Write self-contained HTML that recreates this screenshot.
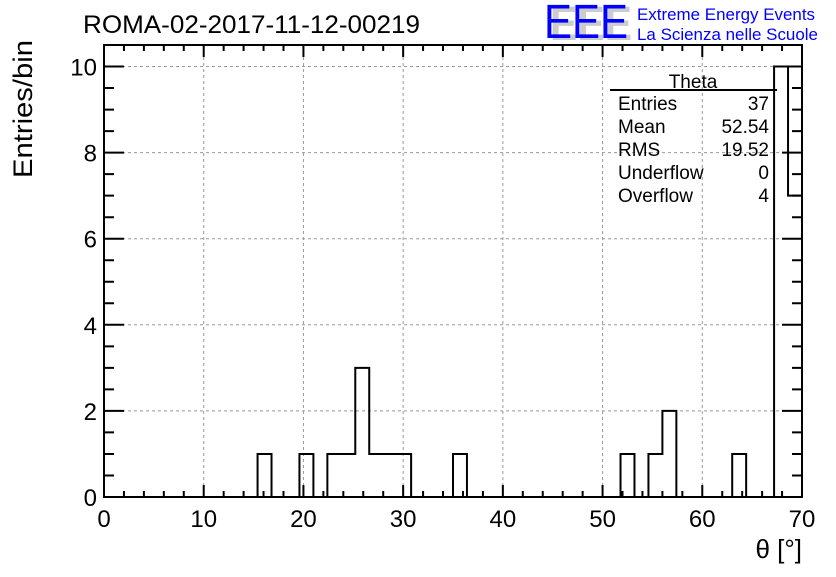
<!DOCTYPE html>
<html><head><meta charset="utf-8"><style>
body{margin:0;background:#fff;}
svg text{font-family:"Liberation Sans",sans-serif;}
</style></head><body>
<svg id="c" width="836" height="572" xmlns="http://www.w3.org/2000/svg">
<rect width="836" height="572" fill="#fff"/>
<g id="grid"></g>
<g id="ticks"></g>
<path id="hist" fill="none" stroke="#000" stroke-width="2"/>
<rect x="104" y="45" width="698" height="452" fill="none" stroke="#000" stroke-width="2"/>
<g id="labels"></g>
<text x="83" y="33" font-size="25" textLength="337" lengthAdjust="spacingAndGlyphs">ROMA-02-2017-11-12-00219</text>
<g>
<text x="550" y="40" font-size="48" fill="#ccc" font-weight="bold" textLength="82" lengthAdjust="spacingAndGlyphs">EEE</text>
<text x="544" y="38" font-size="48" fill="#0000ff" textLength="84" lengthAdjust="spacingAndGlyphs">EEE</text>
<text x="637" y="20" font-size="17" fill="#0000ff" textLength="178" lengthAdjust="spacingAndGlyphs">Extreme Energy Events</text>
<text x="637" y="40" font-size="17" fill="#0000ff" textLength="181" lengthAdjust="spacingAndGlyphs">La Scienza nelle Scuole</text>
</g>
<g font-size="19">
<text x="693" y="88" text-anchor="middle">Theta</text>
<line x1="610" y1="90" x2="777" y2="90" stroke="#000" stroke-width="2"/>
<text x="618" y="110">Entries</text><text x="769" y="110" text-anchor="end">37</text>
<text x="618" y="133">Mean</text><text x="769" y="133" text-anchor="end">52.54</text>
<text x="618" y="156">RMS</text><text x="769" y="156" text-anchor="end">19.52</text>
<text x="618" y="179">Underflow</text><text x="769" y="179" text-anchor="end">0</text>
<text x="618" y="202">Overflow</text><text x="769" y="202" text-anchor="end">4</text>
</g>
<text x="802" y="558" font-size="26" text-anchor="end">θ [°]</text>
<text transform="translate(32,178) rotate(-90)" font-size="27" textLength="138" lengthAdjust="spacingAndGlyphs">Entries/bin</text>
</svg>
<script>
const binCounts=[0,0,0,0,0,0,0,0,0,0,0,1,0,0,1,0,1,1,3,1,1,1,0,0,0,1,0,0,0,0,0,0,0,0,0,0,0,1,0,1,2,0,0,0,0,1,0,0,10,7];
const xTicks=[0,10,20,30,40,50,60,70];
const yTicks=[0,2,4,6,8,10];
const xmin=0,xmax=70,ymin=0,ymax=10.5;
const L=104,R=802,T=45,B=497;
const X=v=>L+(v-xmin)/(xmax-xmin)*(R-L);
const Y=v=>B-(v-ymin)/(ymax-ymin)*(B-T);
const NS="http://www.w3.org/2000/svg";
function mk(tag,attrs,parent){const e=document.createElementNS(NS,tag);for(const k in attrs)e.setAttribute(k,attrs[k]);parent.appendChild(e);return e;}
const grid=document.getElementById('grid'),ticks=document.getElementById('ticks'),labels=document.getElementById('labels');
xTicks.forEach(t=>{
 if(t>xmin&&t<xmax){const g=mk('line',{x1:X(t),x2:X(t),y1:T,y2:B,stroke:'#999','stroke-dasharray':'3,3','stroke-width':1},grid);
 
 }
 const l=mk('text',{x:X(t),y:527,'font-size':24,'text-anchor':'middle'},labels);l.textContent=t;
 
 
});
yTicks.forEach(t=>{
 if(t>ymin){const g=mk('line',{x1:L,x2:R,y1:Y(t),y2:Y(t),stroke:'#999','stroke-dasharray':'3,3','stroke-width':1},grid);
 
 }
 const l=mk('text',{x:97,y:Y(t)+9,'font-size':24,'text-anchor':'end'},labels);l.textContent=t;
 
 
});
let d='';
for(let v=xmin;v<=xmax+1e-9;v+=2){const len=(Math.round(v)%10===0)?12:6;
 d+=`M${X(v)},${B}v${-len}M${X(v)},${T}v${len}`;}
for(let v=ymin;v<=ymax+1e-9;v+=0.5){const len=(Math.round(v*2)%4===0)?20:10;
 d+=`M${L},${Y(v)}h${len}M${R},${Y(v)}h${-len}`;}
mk('path',{d:d,stroke:'#000','stroke-width':2,fill:'none'},ticks);
const w=(xmax-xmin)/binCounts.length;
let p=`M${X(0)},${Y(0)}`;
binCounts.forEach((c,i)=>{p+=`L${X(i*w)},${Y(c)}L${X((i+1)*w)},${Y(c)}`;});
p+=`L${X(xmax)},${Y(0)}`;
document.getElementById('hist').setAttribute('d',p);
</script>
</body></html>
